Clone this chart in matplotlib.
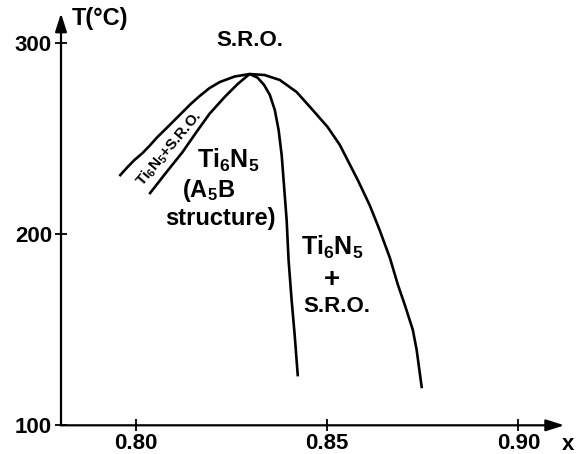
import matplotlib
matplotlib.use("Agg")
import matplotlib.pyplot as plt

plt.rcParams['font.family'] = ['Liberation Sans', 'DejaVu Sans']
plt.rcParams['font.weight'] = 'bold'
plt.rcParams['mathtext.fontset'] = 'custom'
plt.rcParams['mathtext.rm'] = 'Liberation Sans:bold'
plt.rcParams['mathtext.it'] = 'Liberation Sans:bold'
plt.rcParams['mathtext.bf'] = 'Liberation Sans:bold'

# Outer boundary (S.R.O. / two-phase)
outer_x = [0.7959, 0.7978, 0.7996, 0.8017, 0.8035, 0.8056, 0.8080, 0.8101,
           0.8122, 0.8143, 0.8166, 0.8192, 0.8219, 0.8258, 0.8297, 0.8336,
           0.8376, 0.8420, 0.8462, 0.8501, 0.8533, 0.8580, 0.8611, 0.8637,
           0.8664, 0.8685, 0.8703, 0.8724, 0.8734, 0.8747]
outer_T = [231.0, 235.2, 238.9, 242.5, 246.2, 250.9, 255.6, 259.8,
           264.0, 268.2, 272.3, 276.5, 279.7, 282.6, 283.9, 283.4,
           280.8, 274.5, 265.1, 256.2, 246.8, 228.4, 215.3, 202.3,
           187.6, 173.5, 163.0, 149.9, 139.4, 120.1]

# Inner boundary (ordered Ti6N5 / two-phase)
inner_x = [0.8037, 0.8080, 0.8122, 0.8158, 0.8192, 0.8232, 0.8266, 0.8297,
           0.8318, 0.8335, 0.8350, 0.8363, 0.8373, 0.8381, 0.8386, 0.8394,
           0.8399, 0.8407, 0.8415, 0.8423]
inner_T = [221.6, 232.6, 243.1, 253.5, 263.0, 271.9, 278.7, 283.9,
           282.0, 278.2, 273.0, 265.1, 254.6, 241.5, 228.4, 207.5,
           186.6, 165.6, 147.3, 126.3]

xticks = [0.80, 0.85, 0.90]
xtick_labels = ['0.80', '0.85', '0.90']
yticks = [100, 200, 300]
ytick_labels = ['100', '200', '300']

fig = plt.figure(figsize=(5.76, 4.54), dpi=100)
ax = fig.add_axes([0.1059, 0.0632, 0.8738, 0.9075])
ax.set_xlim(0.7804, 0.912)
ax.set_ylim(100, 315.7)

ax.plot(outer_x, outer_T, color='black', lw=1.9, solid_joinstyle='round')
ax.plot(inner_x, inner_T, color='black', lw=1.9, solid_joinstyle='round')

for s in ax.spines.values():
    s.set_visible(False)

arrow = dict(arrowstyle='-|>,head_length=1.1,head_width=0.35', lw=1.6,
             color='black', shrinkA=0, shrinkB=0)
ax.annotate('', xy=(0, 1), xytext=(0, 0), xycoords='axes fraction',
            textcoords='axes fraction', arrowprops=arrow, annotation_clip=False)
ax.annotate('', xy=(1, 0), xytext=(0, 0), xycoords='axes fraction',
            textcoords='axes fraction', arrowprops=arrow, annotation_clip=False)

ax.set_xticks(xticks)
ax.set_xticklabels(xtick_labels)
ax.set_yticks(yticks)
ax.set_yticklabels(ytick_labels)
ax.tick_params(direction='inout', length=8, width=1.3, labelsize=16, pad=1.5)
ax.tick_params(axis='y', pad=2.5)

ax.text(0.7831, 309.6, 'T(°C)', fontsize=17, ha='left', va='baseline')
ax.text(0.9113, 87, 'x', fontsize=16, ha='left', va='baseline', clip_on=False)

ax.text(0.8297, 301.7, 'S.R.O.', fontsize=16, ha='center', va='center')
ax.text(0.8240, 234.7, 'Ti$_6$N$_5$', fontsize=18, ha='center', va='baseline')
ax.text(0.8191, 219.6, '(A$_5$B', fontsize=17, ha='center', va='baseline')
ax.text(0.8221, 205.0, 'structure)', fontsize=17, ha='center', va='baseline')

ax.text(0.8514, 189.2, 'Ti$_6$N$_5$', fontsize=18, ha='center', va='baseline')
ax.text(0.8513, 176.0, '+', fontsize=20, ha='center', va='center')
ax.text(0.8524, 159.3, 'S.R.O.', fontsize=16, ha='center', va='baseline')

ax.text(0.8086, 245.0, 'Ti$_6$N$_5$+S.R.O.', fontsize=11, ha='center',
        va='center', rotation=50, rotation_mode='anchor')

fig.savefig('out.png', dpi=100)
